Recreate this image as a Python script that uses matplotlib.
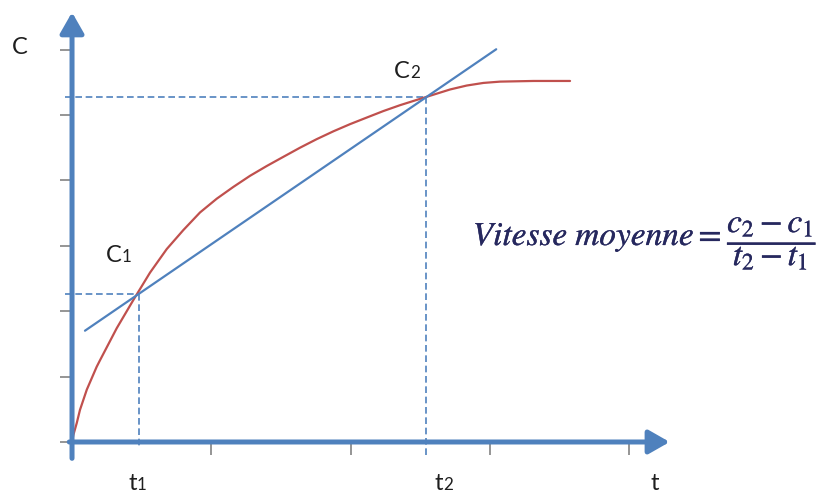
import matplotlib
matplotlib.use("Agg")
from matplotlib import pyplot as plt
from matplotlib import patheffects as pe

# concentration curve C(t), read point by point
curve_t = [0.0, 0.010, 0.034, 0.057, 0.106, 0.177, 0.201, 0.321, 0.440, 0.560,
           0.680, 0.799, 0.919, 1.039, 1.158, 1.278, 1.398, 1.517, 1.637, 1.756,
           1.876, 1.996, 2.115, 2.235, 2.355, 2.474, 2.594, 2.714, 2.833, 2.953,
           3.073, 3.312, 3.575]
curve_c = [0.0, 0.11, 0.29, 0.49, 0.80, 1.15, 1.25, 1.74, 2.17, 2.59,
           2.95, 3.24, 3.51, 3.72, 3.90, 4.07, 4.22, 4.36, 4.50, 4.63,
           4.75, 4.86, 4.96, 5.06, 5.15, 5.23, 5.31, 5.39, 5.45, 5.49,
           5.51, 5.52, 5.52]

# the two instants and their concentrations
t1, c1 = 0.483, 2.27
t2, c2 = 2.541, 5.27

# ends of the secant through (t1, c1) and (t2, c2)
secant_t = [0.093, 3.045]

x_ticks = [1, 2, 3, 4]
y_ticks = [0, 1, 2, 3, 4, 5, 6]

blue = "#4F81BD"
red = "#C0504D"
grey = "#8C8C8C"
navy = "#26285E"
ink = "#1E1E1E"

plt.rcParams["font.family"] = ["Lato", "DejaVu Sans"]
plt.rcParams["mathtext.fontset"] = "stix"

fig = plt.figure(figsize=(8.24, 4.93), dpi=100)
ax = fig.add_axes([0, 0, 1, 1])
ax.set_xlim(-0.517, 5.398)
ax.set_ylim(-0.780, 6.758)

# axes drawn by hand as arrows, the ticks stay matplotlib's
for side in ("left", "bottom"):
    ax.spines[side].set_position(("data", 0))
for side in ax.spines:
    ax.spines[side].set_visible(False)
ax.xaxis.set_ticks_position("bottom")
ax.yaxis.set_ticks_position("left")
ax.set_xticks(x_ticks)
ax.set_yticks(y_ticks)
ax.tick_params(direction="out", length=9, width=1.3, color=grey,
               labelbottom=False, labelleft=False)

arrow = dict(arrowstyle="-|>,head_length=0.7,head_width=0.4", lw=3.6,
             color=blue, shrinkA=0, shrinkB=0, mutation_scale=18)
ax.annotate("", xy=(4.29, 0), xytext=(-0.02, 0), arrowprops=arrow, zorder=4)
ax.annotate("", xy=(0, 6.57), xytext=(0, -0.25), arrowprops=arrow, zorder=4)

# guide lines down to the axes
dash = dict(color=blue, lw=1.2, ls=(0, (4, 2.2)), zorder=2)
ax.plot([-0.05, t1], [c1, c1], **dash)
ax.plot([t1, t1], [c1, -0.08], **dash)
ax.plot([-0.05, t2], [c2, c2], **dash)
ax.plot([t2, t2], [c2, -0.24], **dash)

ax.plot(curve_t, curve_c, color=red, lw=1.6, solid_capstyle="round",
        solid_joinstyle="round", zorder=3)

slope = (c2 - c1) / (t2 - t1)
secant_c = [c1 + slope * (t - t1) for t in secant_t]
ax.plot(secant_t, secant_c, color=blue, lw=1.6, solid_capstyle="round", zorder=3)


def label(x, y, main, sub=None, size=17):
    ax.text(x, y, main, fontsize=size, ha="right" if sub else "center",
            va="baseline", color=ink)
    if sub:
        ax.text(x, y, sub, fontsize=size * 0.72, ha="left", va="baseline",
                color=ink)


label(-0.373, 5.93, "C")
label(0.359, 2.75, "C", "1")
label(2.426, 5.57, "C", "2")
label(0.467, -0.73, "t", "1")
label(2.663, -0.73, "t", "2")
label(4.185, -0.74, "t")

bold = [pe.withStroke(linewidth=0.25, foreground=navy)]
ax.text(4.666, 3.01, r"$\mathit{Vitesse\ moyenne} =$",
        fontsize=24, ha="right", va="baseline", color=navy, path_effects=bold)
ax.text(4.702, 3.03, r"$\dfrac{c_2 - c_1}{t_2 - t_1}$",
        fontsize=24, ha="left", va="center", color=navy, path_effects=bold)

fig.savefig("out.png", dpi=100)
